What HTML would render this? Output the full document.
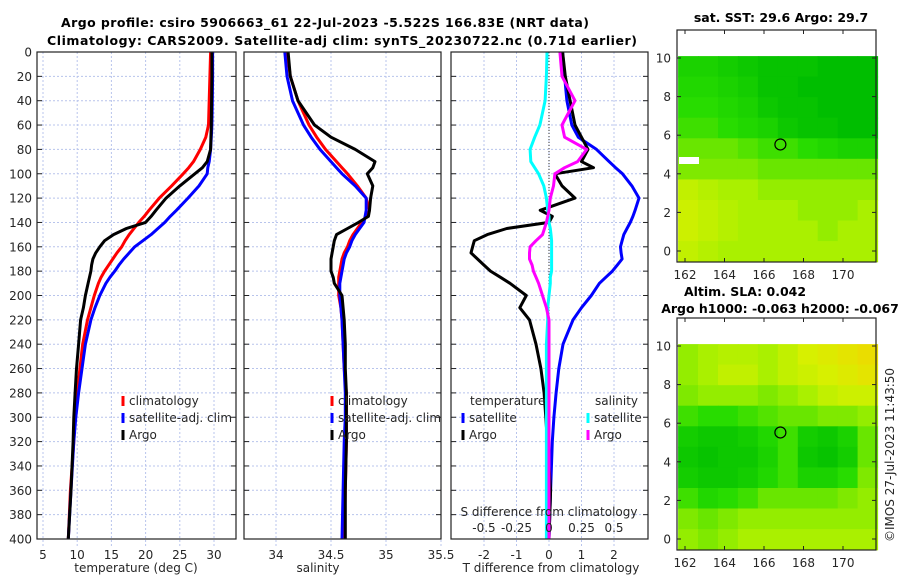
<!DOCTYPE html>
<html><head><meta charset="utf-8"><style>
body{margin:0;background:#fff;}
svg{display:block;font-family:"DejaVu Sans","Liberation Sans",sans-serif;}
.t{font-size:12px;fill:#262626;}
.b{font-size:12.5px;font-weight:bold;fill:#000;}
</style></head><body>
<svg id="s" width="900" height="580" viewBox="0 0 900 580" xmlns="http://www.w3.org/2000/svg">
<text class="b" x="325" y="27" text-anchor="middle" textLength="528">Argo profile: csiro 5906663_61 22-Jul-2023 -5.522S 166.83E (NRT data)</text>
<text class="b" x="342" y="45" text-anchor="middle" textLength="590">Climatology: CARS2009. Satellite-adj clim: synTS_20230722.nc (0.71d earlier)</text>
<text class="b" x="781" y="22" text-anchor="middle">sat. SST: 29.6 Argo: 29.7</text>
<text class="b" x="745" y="296" text-anchor="middle">Altim. SLA: 0.042</text>
<text class="b" x="780" y="313" text-anchor="middle">Argo h1000: -0.063 h2000: -0.067</text>
<text class="t" x="0" y="0" transform="translate(894,455) rotate(-90)" text-anchor="middle">©IMOS 27-Jul-2023 11:43:50</text>
<g id="g"></g>
</svg>
<script>
// ---- profile data (depth in m) ----
const depths=[0,20,40,60,70,80,90,95,100,110,120,130,135,140,145,150,155,160,165,170,175,180,185,190,200,210,220,240,260,280,300,320,360,400];
const tempClim=[29.5,29.4,29.3,29.2,28.8,28,27,26.3,25.5,23.8,22,20.5,19.8,19,18.3,17.6,17,16.5,15.8,15.2,14.6,14,13.5,13.1,12.5,12,11.5,10.8,10.4,10,9.7,9.5,9,8.7];
const tempSat=[29.8,29.8,29.75,29.7,29.6,29.5,29.3,29.1,29,27.8,26.2,24.5,23.6,22.8,21.8,20.8,19.6,18.4,17.6,16.8,16.1,15.5,14.8,14.2,13.3,12.6,12,11.2,10.7,10.2,9.8,9.5,9.1,8.7];
const tempArgo=[29.7,29.7,29.65,29.6,29.55,29.5,29,28.3,27.2,25,23,21.5,20.8,20,17.2,15.3,14,13.3,12.7,12.3,12.1,12,11.8,11.6,11.2,10.9,10.5,10.2,9.9,9.7,9.5,9.4,9.1,8.7];
const salClim=[34.1,34.13,34.2,34.3,34.37,34.45,34.55,34.6,34.65,34.74,34.82,34.85,34.82,34.78,34.74,34.7,34.67,34.65,34.62,34.6,34.59,34.58,34.57,34.57,34.57,34.59,34.6,34.61,34.62,34.64,34.64,34.64,34.63,34.62];
const salSat=[34.08,34.1,34.15,34.25,34.32,34.4,34.5,34.55,34.6,34.72,34.82,34.82,34.81,34.8,34.76,34.72,34.69,34.67,34.64,34.62,34.61,34.6,34.59,34.58,34.58,34.59,34.6,34.61,34.62,34.63,34.63,34.62,34.61,34.6];
const salArgo=[34.11,34.13,34.2,34.35,34.5,34.72,34.9,34.88,34.83,34.88,34.86,34.85,34.84,34.75,34.65,34.55,34.53,34.52,34.51,34.5,34.5,34.5,34.52,34.53,34.6,34.61,34.62,34.63,34.63,34.64,34.64,34.64,34.63,34.63];
const dTSat=[0.42,0.48,0.55,0.7,0.9,1.46,1.85,2.05,2.26,2.55,2.77,2.65,2.58,2.5,2.4,2.3,2.25,2.2,2.22,2.25,2.1,1.95,1.75,1.55,1.3,1.0,0.74,0.43,0.3,0.22,0.15,0.1,0.05,0];
const dTArgo=[0.42,0.5,0.65,0.8,1.0,1.2,1.0,1.37,0.18,0.4,0.8,-0.27,0.1,0.0,-1.3,-1.9,-2.3,-2.35,-2.4,-2.2,-2.0,-1.8,-1.5,-1.2,-0.7,-0.9,-0.6,-0.4,-0.25,-0.15,-0.1,-0.05,0.05,0];
const dSSat=[-0.015,-0.02,-0.03,-0.07,-0.11,-0.145,-0.14,-0.11,-0.08,-0.04,-0.02,-0.01,0,0,0.01,0.015,0.02,0.02,0.02,0.02,0.02,0.02,0.01,0.01,0,-0.01,-0.01,-0.02,-0.02,-0.02,-0.02,-0.02,-0.02,-0.02];
const dSArgo=[0.084,0.1,0.2,0.1,0.12,0.29,0.22,0.12,0.045,0.035,0.01,0,-0.01,-0.02,-0.035,-0.05,-0.1,-0.145,-0.15,-0.15,-0.13,-0.12,-0.1,-0.08,-0.05,-0.02,0,0,0,0,0,0,0,0];
const depthTicks=[0,20,40,60,80,100,120,140,160,180,200,220,240,260,280,300,320,340,360,380,400];
const tTicks=[5,10,15,20,25,30];
const sTicks=[34,34.5,35,35.5];
const dTTicks=[-2,-1,0,1,2];
const dSTicks=[-0.5,-0.25,0,0.25,0.5];
const lonTicks=[162,164,166,168,170];
const latTicks=[0,2,4,6,8,10];
const sstGrid=[
[.2,.2,.15,.1,.05,.05,.05,.0,.0,.0],[.25,.25,.2,.15,.05,.05,.0,.0,.0,.0],
[.3,.3,.25,.2,.1,.05,.05,.0,.0,.0],[.35,.35,.3,.25,.2,.1,.05,.05,.0,.0],
[.45,.45,.45,.4,.35,.35,.3,.25,.2,.2],[.5,.5,.5,.5,.45,.45,.45,.45,.45,.45],
[.7,.65,.6,.6,.55,.55,.55,.55,.55,.55],[.75,.7,.65,.6,.6,.6,.55,.55,.55,.6],
[.75,.7,.65,.6,.6,.6,.6,.55,.6,.6],[.7,.65,.6,.6,.6,.6,.6,.6,.6,.6]];
const slaGrid=[
[.55,.6,.65,.65,.6,.7,.8,.85,.9,.95],[.55,.6,.7,.7,.6,.7,.75,.8,.85,.9],
[.5,.55,.55,.55,.5,.55,.6,.7,.75,.75],[.35,.3,.3,.35,.4,.45,.45,.5,.5,.55],
[.15,.1,.1,.15,.25,.35,.15,.1,.2,.45],[.1,.05,.1,.1,.2,.35,.1,.05,.15,.45],
[.15,.1,.1,.15,.25,.35,.2,.2,.3,.5],[.35,.25,.3,.35,.45,.45,.45,.45,.5,.55],
[.5,.45,.5,.55,.55,.55,.55,.55,.55,.55],[.55,.5,.55,.6,.6,.6,.6,.6,.6,.6]];
const argoLon=166.83, argoLat=5.52;

const NS="http://www.w3.org/2000/svg";
const G=document.getElementById('g');
function mk(tag,attrs,parent){const e=document.createElementNS(NS,tag);for(const k in attrs)e.setAttribute(k,attrs[k]);(parent||G).appendChild(e);return e;}
const Y0=52,Y1=539;
const yD=d=>Y0+d*(Y1-Y0)/400;
function lin(v0,p0,v1,p1){return v=>p0+(v-v0)*(p1-p0)/(v1-v0);}
const panels=[
 {x0:37,x1:236,sx:lin(5,43,30,214),ticks:tTicks,lab:'temperature (deg C)',labx:136,ylab:true,name:'temperature-panel'},
 {x0:244,x1:441,sx:lin(34,276,35,386),ticks:sTicks,lab:'salinity',labx:318,ylab:false,name:'salinity-panel'},
 {x0:451,x1:648,sx:lin(0,549,2,614),ticks:dTTicks,lab:'T difference from climatology',labx:551,ylab:false,name:'difference-panel'}];
panels.forEach(p=>{
 const g=mk('g',{});
 
 
 p.ticks.forEach(v=>{const x=p.sx(v);
  const l=mk('line',{x1:x,x2:x,y1:Y0,y2:Y1+8,stroke:'#b8c4ec','stroke-width':1,'stroke-dasharray':'2,2'},g);
  
  const t=mk('text',{x:x,y:Y1+20,'text-anchor':'middle',class:'t'},g);t.textContent=v;
  });
 depthTicks.forEach(d=>{const y=yD(d);
  const l=mk('line',{x1:p.x0,x2:p.x1,y1:y,y2:y,stroke:'#b8c4ec','stroke-width':1,'stroke-dasharray':'2,2'},g);
  
  mk('line',{x1:p.x0,x2:p.x0+5,y1:y,y2:y,stroke:'#222'},g);
  mk('line',{x1:p.x1-5,x2:p.x1,y1:y,y2:y,stroke:'#222'},g);
  if(p.ylab){const t=mk('text',{x:p.x0-5,y:y+4.5,'text-anchor':'end',class:'t'},g);t.textContent=d;
   }});
 const xl=mk('text',{x:p.labx,y:572,'text-anchor':'middle',class:'t'},g);xl.textContent=p.lab;
 
 p.g=g;
});
function series(p,vals,color,name){
 const pts=vals.map((v,i)=>p.sx(v).toFixed(1)+','+yD(depths[i]).toFixed(1)).join(' ');
 const e=mk('polyline',{points:pts,fill:'none',stroke:color,'stroke-width':3,'stroke-linejoin':'round'},p.g);
 
 
}
const P=panels;
series(P[0],tempClim,'#ff0000','temp-climatology-line');
series(P[0],tempSat,'#0000ff','temp-satellite-line');
series(P[0],tempArgo,'#000','temp-argo-line');
series(P[1],salClim,'#ff0000','sal-climatology-line');
series(P[1],salSat,'#0000ff','sal-satellite-line');
series(P[1],salArgo,'#000','sal-argo-line');
const zl=mk('line',{x1:549,x2:549,y1:Y0,y2:Y1,stroke:'#333','stroke-width':1,'stroke-dasharray':'1,2'},P[2].g);


const sxS=lin(0,549,0.5,614);
series(P[2],dTSat,'#0000ff','dT-satellite-line');
series(P[2],dTArgo,'#000','dT-argo-line');
series({sx:sxS,g:P[2].g},dSSat,'#00ffff','dS-satellite-line');
series({sx:sxS,g:P[2].g},dSArgo,'#ff00ff','dS-argo-line');
dSTicks.forEach(v=>{const t=mk('text',{x:sxS(v),y:532,'text-anchor':'middle',class:'t'},P[2].g);t.textContent=v;
 });
const st=mk('text',{x:549,y:516,'text-anchor':'middle',class:'t'},P[2].g);st.textContent='S difference from climatology';

panels.forEach(p=>{const r=mk('rect',{x:p.x0,y:Y0,width:p.x1-p.x0,height:Y1-Y0,fill:'none',stroke:'#222','stroke-width':1.2},p.g);
 });
function leg(x,y,color,label,name){
 const g=mk('g',{});
 
 
 mk('line',{x1:x,x2:x,y1:y-9,y2:y+1,stroke:color,'stroke-width':3},g);
 const t=mk('text',{x:x+6,y:y,class:'t'},g);t.textContent=label;
}
leg(123,405,'#ff0000','climatology','legend-climatology');
leg(123,422,'#0000ff','satellite-adj. clim','legend-satellite');
leg(123,439,'#000','Argo','legend-argo');
leg(332,405,'#ff0000','climatology','legend2-climatology');
leg(332,422,'#0000ff','satellite-adj. clim','legend2-satellite');
leg(332,439,'#000','Argo','legend2-argo');
const tt=mk('text',{x:470,y:405,class:'t'});tt.textContent='temperature';

const sh=mk('text',{x:595,y:405,class:'t'});sh.textContent='salinity';

leg(463,422,'#0000ff','satellite','legend-dT-satellite');
leg(463,439,'#000','Argo','legend-dT-argo');
leg(588,422,'#00ffff','satellite','legend-dS-satellite');
leg(588,439,'#ff00ff','Argo','legend-dS-argo');
function cmap(v){const st=[[0,[0,190,0]],[.3,[40,220,0]],[.6,[170,240,0]],[.8,[215,240,0]],[1,[240,215,0]]];
 for(let i=1;i<st.length;i++){if(v<=st[i][0]){const a=st[i-1],b=st[i],f=(v-a[0])/(b[0]-a[0]);
  return 'rgb('+a[1].map((c,k)=>Math.round(c+f*(b[1][k]-c))).join(',')+')';}}return 'rgb(240,215,0)';}
function map(top,grid,name){
 const g=mk('g',{});
 
 
 const X0=677,X1=876,B=top+232;
 const sx=lin(162,685,170,843), sy=lin(0,top+221,10,top+28);
 const lat0=10.1,lat1=-0.55,lon0=161.65,lon1=171.75;
 const rows=grid.length,cols=grid[0].length;
 for(let r=0;r<rows;r++)for(let c=0;c<cols;c++){
  const xa=sx(lon0+(lon1-lon0)*c/cols),xb=sx(lon0+(lon1-lon0)*(c+1)/cols);
  const ya=sy(lat0-(lat0-lat1)*r/rows),yb=sy(lat0-(lat0-lat1)*(r+1)/rows);
  const e=mk('rect',{x:xa.toFixed(1),y:ya.toFixed(1),width:(xb-xa+0.6).toFixed(1),height:(yb-ya+0.6).toFixed(1),fill:cmap(grid[r][c])},g);
  
  
 }
 const ci=mk('circle',{cx:sx(argoLon),cy:sy(argoLat),r:5.5,fill:'none',stroke:'#000','stroke-width':1.2},g);
 
 
 lonTicks.forEach(v=>{const x=sx(v);mk('line',{x1:x,x2:x,y1:B,y2:B-4,stroke:'#222'},g);mk('line',{x1:x,x2:x,y1:top,y2:top+4,stroke:'#222'},g);
  const t=mk('text',{x:x,y:B+17,'text-anchor':'middle',class:'t'},g);t.textContent=v;
  });
 latTicks.forEach(v=>{const y=sy(v);mk('line',{x1:X0,x2:X0+4,y1:y,y2:y,stroke:'#222'},g);mk('line',{x1:X1-4,x2:X1,y1:y,y2:y,stroke:'#222'},g);
  const t=mk('text',{x:X0-6,y:y+4.5,'text-anchor':'end',class:'t'},g);t.textContent=v;
  });
 const fr=mk('rect',{x:X0,y:top,width:X1-X0,height:B-top,fill:'none',stroke:'#222','stroke-width':1.2},g);
 
 
 return g;
}
map(30,sstGrid,'sst-map');
map(318,slaGrid,'sla-map');
mk('rect',{x:679,y:157,width:20,height:7,fill:'#fff'});
</script>
</body></html>
